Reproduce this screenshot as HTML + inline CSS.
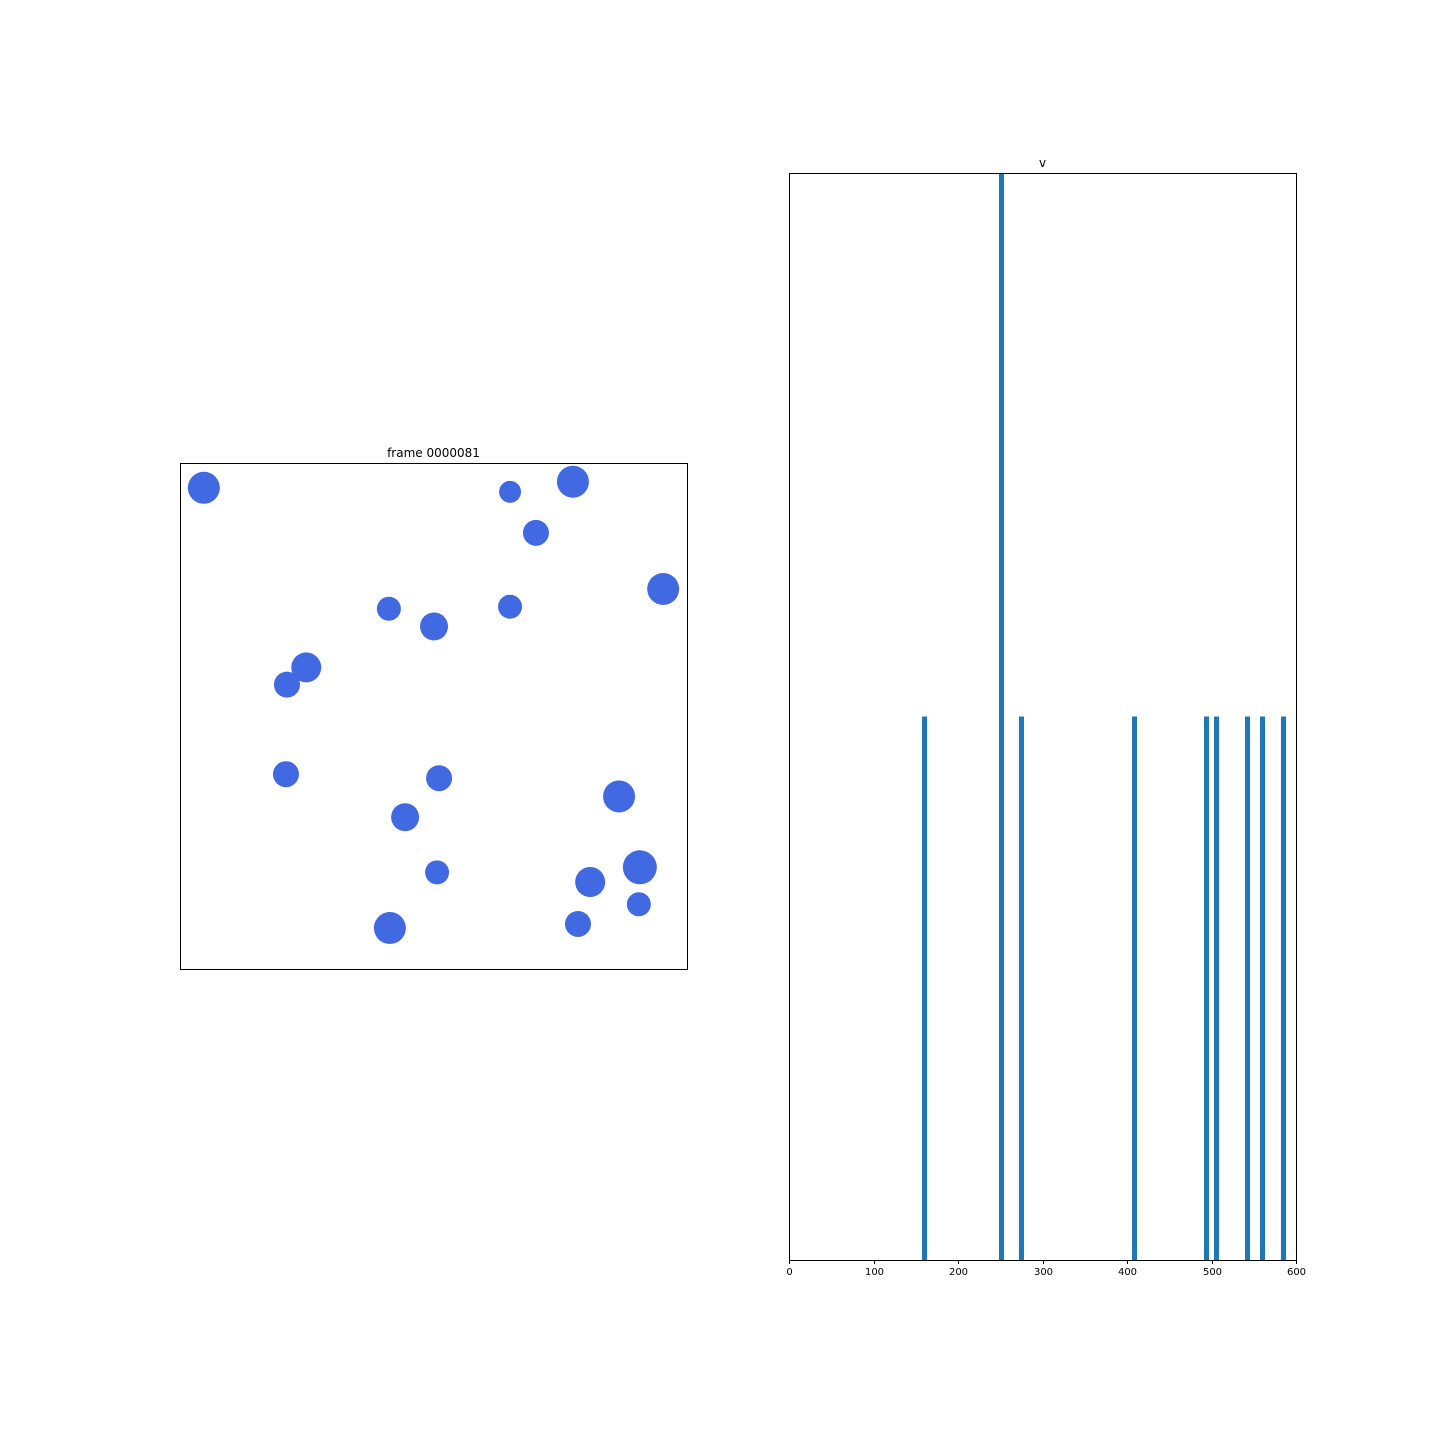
<!DOCTYPE html>
<html><head><meta charset="utf-8"><style>
html,body{margin:0;padding:0;background:#fff;}
svg{display:block;font-family:"DejaVu Sans","Liberation Sans",sans-serif;}
</style></head><body>
<svg id="fig" width="1440" height="1440">
  <rect width="1440" height="1440" fill="#fff"/>
  <g id="left"></g>
  <g id="right"></g>
  <text x="433.5" y="457" text-anchor="middle" font-size="12">frame 0000081</text>
  <text x="1042.5" y="167" text-anchor="middle" font-size="12">v</text>
</svg>
<script>
// scatter data (0..100 units) and radii (px)
const particleX = [4.7,65.1,77.5,70.2,95.3,41.2,50.1,65.1,24.9,21.1,20.9,51.1,86.6,44.4,50.7,80.9,90.7,90.5,78.5,41.4];
const particleY = [95.1,94.3,96.3,86.2,75.1,71.2,67.7,71.6,59.6,56.2,38.5,37.7,34.1,30.0,19.1,17.2,20.1,12.8,8.9,8.1];
const particleR = [16,11,16,13,16,12,14,12,15,13,13,13,16,14,12,15,17,12,13,16];
// histogram data
const binCenters = [160.4,251.5,275.1,408.9,494.1,505.9,542.6,560.4,585.2];
const binCounts = [1,2,1,1,1,1,1,1,1];
const binWidth = 6;
const xTicks = [0,100,200,300,400,500,600];

const NS="http://www.w3.org/2000/svg";
function mk(tag,attrs,parent){const e=document.createElementNS(NS,tag);for(const k in attrs)e.setAttribute(k,attrs[k]);parent.appendChild(e);return e;}

// left panel
const L={x0:180,y0:463,w:507,h:506};
const lg=document.getElementById('left');
const sx=v=>L.x0+v/100*L.w, sy=v=>L.y0+L.h-v/100*L.h;
for(let i=0;i<particleX.length;i++){
  const c=mk('circle',{cx:sx(particleX[i]),cy:sy(particleY[i]),r:particleR[i],fill:'#4169e1'},lg);
  
  
}
const lf=mk('rect',{x:L.x0+0.5,y:L.y0+0.5,width:L.w,height:L.h,fill:'none',stroke:'#000','stroke-width':1},lg);



// right panel
const R={x0:789,y0:173,w:507,h:1087};
const rg=document.getElementById('right');
const hx=v=>R.x0+v/600*R.w, hy=v=>R.y0+R.h-v/2*R.h;
for(let i=0;i<binCenters.length;i++){
  const b=mk('rect',{x:hx(binCenters[i]-binWidth/2),y:hy(binCounts[i]),width:hx(binWidth)-hx(0),height:hy(0)-hy(binCounts[i]),fill:'#1f77b4'},rg);
  
  
}
const rf=mk('rect',{x:R.x0+0.5,y:R.y0+0.5,width:R.w,height:R.h,fill:'none',stroke:'#000','stroke-width':1},rg);


for(const t of xTicks){
  const x=Math.round(hx(t))+0.5;
  const tk=mk('line',{x1:x,y1:R.y0+R.h,x2:x,y2:R.y0+R.h+4,stroke:'#000'},rg);
  
  
  const tl=mk('text',{x:x,y:R.y0+R.h+15,'text-anchor':'middle','font-size':10},rg);
  tl.textContent=t;
  
  
}
</script>
</body></html>
